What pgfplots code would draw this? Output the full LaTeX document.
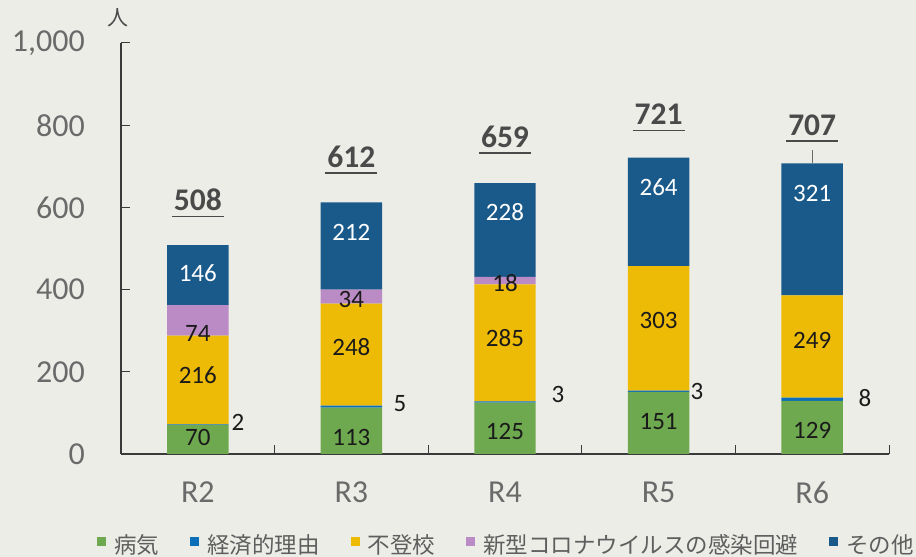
\documentclass[border=0pt]{standalone}
\usepackage{fontspec}
\setmainfont{Carlito}
\newfontfamily\jp{Noto Sans CJK JP}
\usepackage{pgfplots}
\pgfplotsset{compat=1.18}
\definecolor{bg}{HTML}{EDEDE8}
\definecolor{cGreen}{HTML}{6EA94F}
\definecolor{cBlue}{HTML}{0A6FB8}
\definecolor{cYellow}{HTML}{EDBB05}
\definecolor{cPurple}{HTML}{BB8BC6}
\definecolor{cNavy}{HTML}{1A5A8A}
\definecolor{tickgray}{HTML}{6A6A6A}
\definecolor{totgray}{HTML}{4A4A4A}
\definecolor{leggray}{HTML}{5E5E5E}
\definecolor{axisgray}{HTML}{3A3A3A}
\definecolor{labblack}{HTML}{1A1A1A}
\pgfplotsset{sqleg/.style={legend image code/.code={\fill[##1] (0pt,-1.5pt) rectangle (9pt,7.5pt);}},
  frame/.style={at={(121pt,103pt)}, anchor=south west,
  scale only axis, width=768pt, height=411pt,
  xmin=-0.5, xmax=4.5, ymin=0, ymax=1000, clip=false}}
\newcommand{\lab}[4][labblack]{\node[font=\fontsize{25}{28}\selectfont, text=#1, inner sep=0pt] at (axis cs:#2,#3) {#4};}
\newcommand{\ul}[1]{\vtop{\hbox{\kern2pt#1\kern2pt}\kern4.6pt\hrule height 1.8pt}}
\newcommand{\tot}[3]{\node[font=\bfseries\fontsize{31.5}{34}\selectfont, text=totgray, inner sep=0pt, anchor=base] at (axis cs:#1,#2) {\ul{#3}};}
\begin{document}
\begin{tikzpicture}[x=1pt,y=1pt]
\fill[bg] (0,0) rectangle (916,557);
\useasboundingbox (0,0) rectangle (916,557);
\begin{axis}[
  frame,
  axis x line*=bottom, axis y line*=left,
  axis line style={draw=axisgray, line width=1.2pt},
  ybar stacked, bar width=0.4,
  xtick={0,1,2,3,4}, xticklabels={R2,R3,R4,R5,R6},
  ytick={0,200,400,600,800,1000}, yticklabels={0,200,400,600,800,{1,000}},
  major tick length=0pt, minor tick length=9pt,
  minor xtick={0.5,1.5,2.5,3.5,4.5}, minor ytick={200,400,600,800,1000},
  tick align=inside,
  every minor tick/.append style={draw=axisgray, line width=1pt},
  /pgf/number format/assume math mode=true,
  tick label style={font=\fontsize{32}{36}\selectfont, text=tickgray, inner sep=0pt},
  yticklabel style={anchor=east, xshift=-36pt},
  xticklabel style={anchor=north, yshift=-28pt},
  legend columns=5,
  legend style={at={(-0.03125,-0.2214)}, anchor=west, draw=none, fill=none, inner sep=0pt,
    font=\jp\fontsize{22.5}{26}\selectfont, text=leggray, nodes={inner sep=0pt},
    /tikz/every odd column/.append style={column sep=8pt},
    /tikz/every even column/.append style={column sep=31pt}},
]
\addplot[fill=cGreen, draw=none, sqleg]
  coordinates {(0,70) (1,113) (2,125) (3,151) (4,129)};
\addlegendentry{病気}
\addplot[fill=cBlue, draw=none, sqleg]
  coordinates {(0,2) (1,5) (2,3) (3,3) (4,8)};
\addlegendentry{経済的理由}
\addplot[fill=cYellow, draw=none, sqleg]
  coordinates {(0,216) (1,248) (2,285) (3,303) (4,249)};
\addlegendentry{不登校}
\addplot[fill=cPurple, draw=none, sqleg]
  coordinates {(0,74) (1,34) (2,18) (3,0) (4,0)};
\addlegendentry{新型コロナウイルスの感染回避}
\addplot[fill=cNavy, draw=none, sqleg]
  coordinates {(0,146) (1,212) (2,228) (3,264) (4,321)};
\addlegendentry{その他}
\end{axis}
\begin{axis}[frame, hide axis]
% segment labels
\lab{0}{39}{70}\lab{0}{192}{216}\lab{0}{294}{74}\lab[white]{0}{440}{146}
\lab{1}{41}{113}\lab{1}{260}{248}\lab{1}{375}{34}\lab[white]{1}{540}{212}
\lab{2}{54}{125}\lab{2}{282}{285}\lab{2}{416}{18}\lab[white]{2}{589}{228}
\lab{3}{78}{151}\lab{3}{326}{303}\lab[white]{3}{650}{264}
\lab{4}{58}{129}\lab{4}{277}{249}\lab[white]{4}{635}{321}
% small values
\lab{0.262}{78}{2}\lab{1.316}{122}{5}\lab{2.345}{144}{3}\lab{3.25}{151}{3}\lab{4.344}{136}{8}
% totals
\tot{0}{592}{508}\tot{1}{697.6}{612}\tot{2}{746}{659}\tot{3}{800.5}{721}\tot{4}{776}{707}
\draw[tickgray, line width=0.8pt] (axis cs:4,707) -- (axis cs:4,740);
\node[font=\jp\fontsize{21}{24}\selectfont, text=totgray, inner sep=0pt] at ([xshift=-3.5pt,yshift=25.5pt]rel axis cs:0,1) {人};
\end{axis}
\end{tikzpicture}
\end{document}
